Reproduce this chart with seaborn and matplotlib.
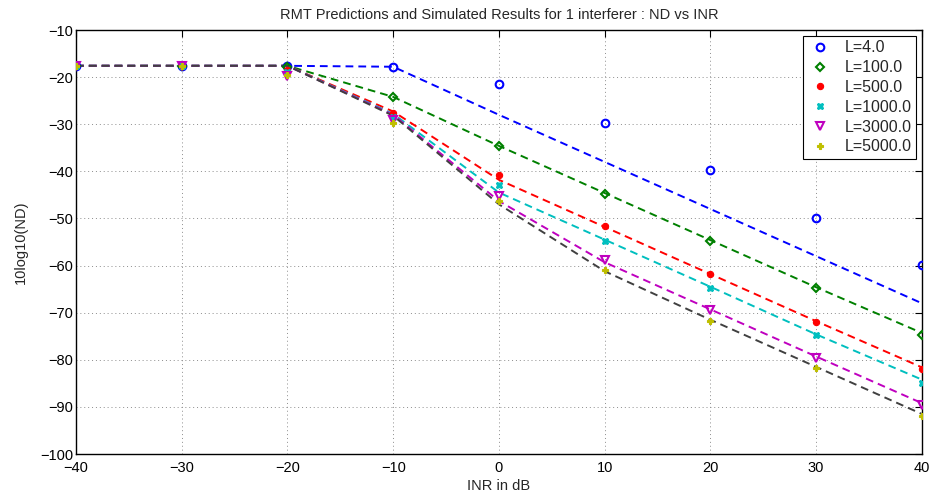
import numpy as np
import matplotlib
matplotlib.use("Agg")
import matplotlib.pyplot as plt
import pandas as pd
import seaborn as sns

inr = [-40, -30, -20, -10, 0, 10, 20, 30, 40]
labels = ["L=4.0", "L=100.0", "L=500.0", "L=1000.0", "L=3000.0", "L=5000.0"]

# simulated points (markers)
sim_4 = [-17.6, -17.6, -17.6, -17.8, -21.5, -29.8, -39.8, -49.8, -59.8]
sim_100 = [-17.6, -17.6, -17.9, -24.2, -34.7, -44.8, -54.8, -64.7, -74.8]
sim_500 = [-17.6, -17.6, -18.5, -27.7, -40.8, -51.7, -61.8, -71.9, -82.0]
sim_1000 = [-17.6, -17.6, -19.0, -28.5, -43.0, -54.8, -64.8, -74.8, -84.9]
sim_3000 = [-17.6, -17.6, -19.7, -29.1, -45.2, -58.8, -69.4, -79.7, -89.6]
sim_5000 = [-17.6, -17.6, -19.6, -29.7, -46.4, -61.0, -71.8, -81.8, -91.9]

# RMT predictions (dashed lines)
rmt_4 = [-17.6, -17.6, -17.6, -17.8, -28.0, -38.0, -48.0, -58.0, -68.0]
rmt_100 = [-17.6, -17.6, -17.6, -24.2, -34.6, -44.6, -54.6, -64.6, -74.3]
rmt_500 = [-17.6, -17.6, -17.6, -27.3, -41.8, -51.8, -61.8, -71.8, -81.6]
rmt_1000 = [-17.6, -17.6, -17.6, -27.8, -44.5, -54.5, -64.5, -74.6, -84.2]
rmt_3000 = [-17.6, -17.6, -17.6, -28.0, -46.3, -59.3, -69.3, -79.3, -89.2]
rmt_5000 = [-17.6, -17.6, -17.6, -28.2, -47.0, -61.2, -71.5, -81.5, -91.5]

sims = [sim_4, sim_100, sim_500, sim_1000, sim_3000, sim_5000]
rmts = [rmt_4, rmt_100, rmt_500, rmt_1000, rmt_3000, rmt_5000]

marker_colors = ["#0000ff", "#008000", "#ff0000", "#00bfbf", "#bf00bf", "#bfbf00"]
line_colors = ["#0000ff", "#008000", "#ff0000", "#00bfbf", "#bf00bf", "#404040"]
markers = ["o", "D", "o", "X", "v", "P"]
msizes = [5.5, 4.5, 4.5, 4.5, 6, 5]
hollow = [True, True, False, False, True, False]

sns.set_style("white")
plt.rcParams["font.family"] = ["Liberation Sans", "DejaVu Sans"]

fig = plt.figure(figsize=(9.33, 5.0), dpi=100)
ax = fig.add_axes([0.0815, 0.092, 0.9065, 0.848])

for i in range(len(labels)):
    df = pd.DataFrame({"inr": inr, "rmt": rmts[i], "sim": sims[i]})
    sns.lineplot(data=df, x="inr", y="rmt", ax=ax, color=line_colors[i],
                 linewidth=1.4, dashes=False, linestyle=(0, (4, 2.6)),
                 legend=False, zorder=2)

for i in range(len(labels)):
    df = pd.DataFrame({"inr": inr, "sim": sims[i]})
    sns.lineplot(data=df, x="inr", y="sim", ax=ax, linestyle="none",
                 marker=markers[i], markersize=msizes[i],
                 markerfacecolor="none" if hollow[i] else marker_colors[i],
                 markeredgecolor=marker_colors[i], markeredgewidth=1.5 if hollow[i] else 0.8,
                 color=marker_colors[i], label=labels[i], zorder=3)

ax.set_xlim(-40, 40)
ax.set_ylim(-100, -10)
ax.set_xticks(np.arange(-40, 41, 10))
ax.set_yticks(np.arange(-100, -9, 10))
ax.grid(True, linestyle=(0, (1, 3)), color="#8c8c8c", linewidth=0.7)
ax.tick_params(direction="in", top=True, right=True, length=5, width=0.8,
               labelsize=10.5, colors="black")
ax.tick_params(axis="x", pad=5)
ax.tick_params(axis="y", pad=2)
for s in ax.spines.values():
    s.set_color("black")
    s.set_linewidth(1.0)

ax.set_title("RMT Predictions and Simulated Results for 1 interferer : ND vs INR",
             fontsize=10.5, pad=8)
ax.set_xlabel("INR in dB", fontsize=10.5, labelpad=3)
ax.set_ylabel("10log10(ND)", fontsize=10.5, labelpad=9)

leg = ax.legend(loc="upper right", bbox_to_anchor=(1.0, 1.0), fontsize=11.5,
                frameon=True, fancybox=False, edgecolor="black", framealpha=1,
                handlelength=1.6, handletextpad=0.7, borderpad=0.3, labelspacing=0.3,
                borderaxespad=0.35)
leg.get_frame().set_linewidth(0.8)

fig.savefig("out.png", dpi=100)
